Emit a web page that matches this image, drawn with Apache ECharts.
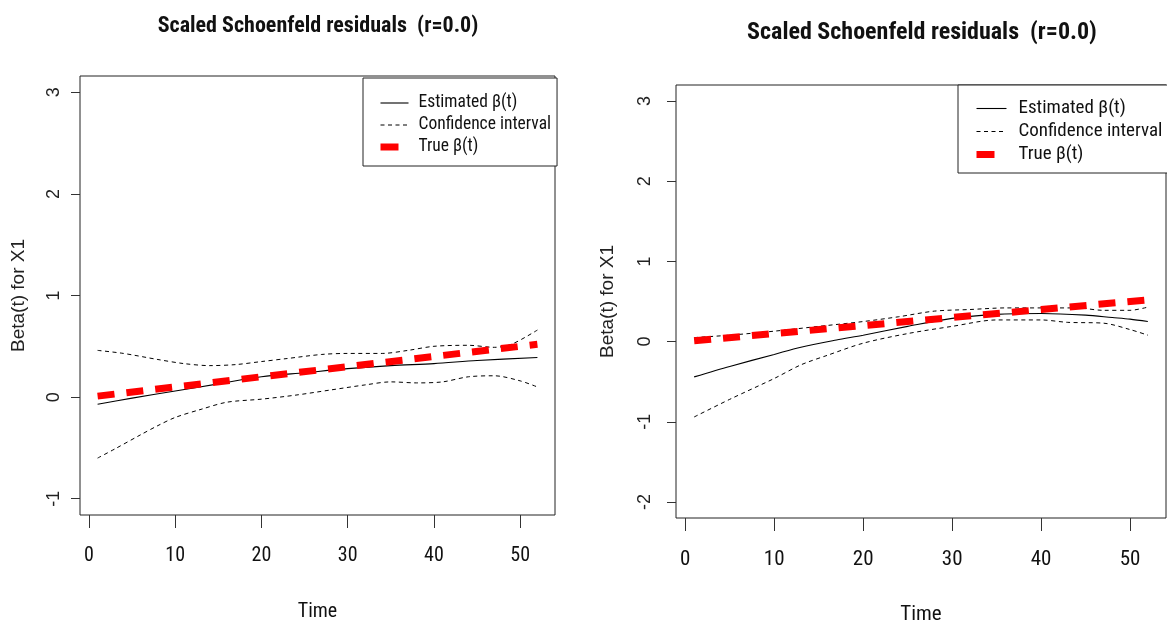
<!DOCTYPE html>
<html><head><meta charset="utf-8">
<script src="https://cdn.jsdelivr.net/npm/echarts@6/dist/echarts.min.js"></script>
<style>html,body{margin:0;padding:0;background:#fff}#c{width:1167px;height:625px}</style>
</head><body><div id="c"></div>
<script>
// ---- Data ----
const titleText = 'Scaled Schoenfeld residuals  (r=0.0)';
const xTicks = [0, 10, 20, 30, 40, 50];
const yTicksLeft = [-1, 0, 1, 2, 3];
const yTicksRight = [-2, -1, 0, 1, 2, 3];
const seriesNames = ['Estimated \u03b2(t)', 'Confidence interval', 'True \u03b2(t)'];

// Left panel
const L_estT = [1, 5, 10, 15, 20, 25, 30, 35, 40, 45, 52];
const L_estV = [-0.07, -0.01, 0.06, 0.13, 0.20, 0.24, 0.28, 0.31, 0.33, 0.36, 0.39];
const L_upT = [1, 4, 8, 11, 14, 17, 20, 23, 27, 30, 34, 37, 40, 44, 47, 49, 52];
const L_upV = [0.46, 0.43, 0.37, 0.33, 0.31, 0.32, 0.35, 0.38, 0.42, 0.43, 0.43, 0.46, 0.50, 0.51, 0.49, 0.52, 0.66];
const L_loT = [1, 3, 6, 8, 10, 13, 16, 20, 24, 28, 32, 35, 38, 41, 44, 47, 50, 52];
const L_loV = [-0.60, -0.51, -0.37, -0.28, -0.20, -0.12, -0.05, -0.02, 0.02, 0.07, 0.12, 0.15, 0.14, 0.15, 0.20, 0.21, 0.16, 0.10];
const L_trueT = [1, 10, 20, 30, 40, 52];
const L_trueV = [0.01, 0.10, 0.20, 0.30, 0.40, 0.52];

// Right panel
const R_estT = [1, 5, 10, 13, 17, 20, 25, 30, 35, 40, 45, 48, 50, 52];
const R_estV = [-0.44, -0.31, -0.16, -0.07, 0.02, 0.08, 0.19, 0.29, 0.34, 0.35, 0.33, 0.30, 0.28, 0.25];
const R_upT = [1, 5, 10, 15, 20, 24, 28, 32, 36, 40, 44, 47, 50, 52];
const R_upV = [0.05, 0.08, 0.13, 0.19, 0.25, 0.31, 0.38, 0.40, 0.42, 0.42, 0.42, 0.39, 0.39, 0.43];
const R_loT = [1, 5, 10, 13, 16, 20, 25, 30, 35, 40, 43, 47, 50, 52];
const R_loV = [-0.94, -0.72, -0.46, -0.29, -0.17, -0.02, 0.10, 0.19, 0.27, 0.27, 0.24, 0.23, 0.15, 0.08];
const R_trueT = [1, 10, 20, 30, 40, 52];
const R_trueV = [0.01, 0.10, 0.20, 0.30, 0.40, 0.52];

// ---- Build chart ----
const zip = (t, v) => t.map((x, i) => [x, v[i]]);
const NARROW = "'Roboto Condensed','Liberation Sans',sans-serif";
const REG = "'Liberation Sans',Arial,sans-serif";
const INK = '#111';

function xAxis(gi, nameGap, fs) {
  return {
    gridIndex: gi, type: 'value', min: -1.04, max: 54.04,
    name: 'Time', nameLocation: 'middle', nameGap: nameGap,
    nameTextStyle: { fontFamily: NARROW, fontSize: fs, color: INK },
    axisLine: { show: false, onZero: false },
    axisTick: { show: true, inside: false, length: 13, lineStyle: { color: '#333', width: 1 }, customValues: xTicks },
    axisLabel: { show: true, margin: 31, fontFamily: NARROW, fontSize: fs, color: INK, customValues: xTicks },
    splitLine: { show: false }
  };
}
function yAxis(gi, min, max, ticks, nameGap, labelMargin) {
  return {
    gridIndex: gi, type: 'value', min: min, max: max,
    name: 'Beta(t) for X1', nameLocation: 'middle', nameGap: nameGap, nameRotate: 90,
    nameTextStyle: { fontFamily: REG, fontSize: 19, color: '#222' },
    axisLine: { show: false, onZero: false },
    axisTick: { show: true, inside: false, length: 9, lineStyle: { color: '#333', width: 1 }, customValues: ticks },
    axisLabel: { show: true, rotate: 90, margin: labelMargin, fontFamily: REG, fontSize: 18, color: '#222', customValues: ticks },
    splitLine: { show: false }
  };
}
function panelSeries(gi, est, up, lo, tru) {
  const base = { type: 'line', xAxisIndex: gi, yAxisIndex: gi, symbol: 'none', smooth: 0.3, silent: true, animation: false };
  return [
    Object.assign({}, base, { name: seriesNames[0], data: est, lineStyle: { color: '#000', width: 1.1, type: 'solid' }, itemStyle: { color: '#000' } }),
    Object.assign({}, base, { name: seriesNames[1], data: up, lineStyle: { color: '#000', width: 1, type: [4, 3.5] }, itemStyle: { color: '#000' } }),
    Object.assign({}, base, { name: seriesNames[1], data: lo, lineStyle: { color: '#000', width: 1, type: [4, 3.5] }, itemStyle: { color: '#000' } }),
    Object.assign({}, base, { name: seriesNames[2], data: tru, smooth: false, z: 5, lineStyle: { color: '#ff0000', width: 7, type: [17, 12], cap: 'butt' }, itemStyle: { color: '#ff0000' } })
  ];
}
const hidden = { color: 'rgba(0,0,0,0)', borderWidth: 0, opacity: 0 };
function legend(left, top, padding, iconW, gap, fs, textPad) {
  return {
    left: left, top: top, orient: 'vertical', selectedMode: false,
    backgroundColor: '#fff', borderColor: '#222', borderWidth: 1, borderRadius: 0,
    padding: padding, itemWidth: iconW, itemHeight: 14, itemGap: gap,
    textStyle: { fontFamily: NARROW, fontSize: fs, lineHeight: 14, color: INK, padding: [1, 0, 0, textPad] },
    data: [
      { name: seriesNames[0], itemStyle: hidden, lineStyle: { width: 1.1, color: '#000', type: 'solid' } },
      { name: seriesNames[1], itemStyle: hidden, lineStyle: { width: 1, color: '#000', type: [4, 3.5] } },
      { name: seriesNames[2], itemStyle: hidden, lineStyle: { width: 7, color: '#ff0000', type: [18, 40], cap: 'butt' } }
    ]
  };
}

const chart = echarts.init(document.getElementById('c'), null, { renderer: 'canvas' });
chart.setOption({
  animation: false,
  backgroundColor: '#fff',
  title: [
    { text: titleText, left: 313, top: 10, textAlign: 'center', textStyle: { fontFamily: NARROW, fontWeight: 'bold', fontSize: 22, color: INK } },
    { text: titleText, left: 917, top: 16, textAlign: 'center', textStyle: { fontFamily: NARROW, fontWeight: 'bold', fontSize: 24, color: INK } }
  ],
  grid: [
    { left: 80, top: 76, width: 475, height: 439, show: true, borderColor: '#222', borderWidth: 1, backgroundColor: 'transparent', containLabel: false, outerBoundsMode: 'none' },
    { left: 676, top: 85, width: 490, height: 433, show: true, borderColor: '#222', borderWidth: 1, backgroundColor: 'transparent', containLabel: false, outerBoundsMode: 'none' }
  ],
  legend: [
    legend(363, 78, [16, 6, 10, 14], 28, 4, 17.5, 5),
    legend(958, 85, [14, 30, 9, 15], 30, 4, 19, 7)
  ],
  xAxis: [ xAxis(0, 87, 20), xAxis(1, 86, 21) ],
  yAxis: [ yAxis(0, -1.16, 3.16, yTicksLeft, 52, 17), yAxis(1, -2.2, 3.2, yTicksRight, 59, 22) ],
  series: [].concat(
    panelSeries(0, zip(L_estT, L_estV), zip(L_upT, L_upV), zip(L_loT, L_loV), zip(L_trueT, L_trueV)),
    panelSeries(1, zip(R_estT, R_estV), zip(R_upT, R_upV), zip(R_loT, R_loV), zip(R_trueT, R_trueV))
  )
});
</script></body></html>
